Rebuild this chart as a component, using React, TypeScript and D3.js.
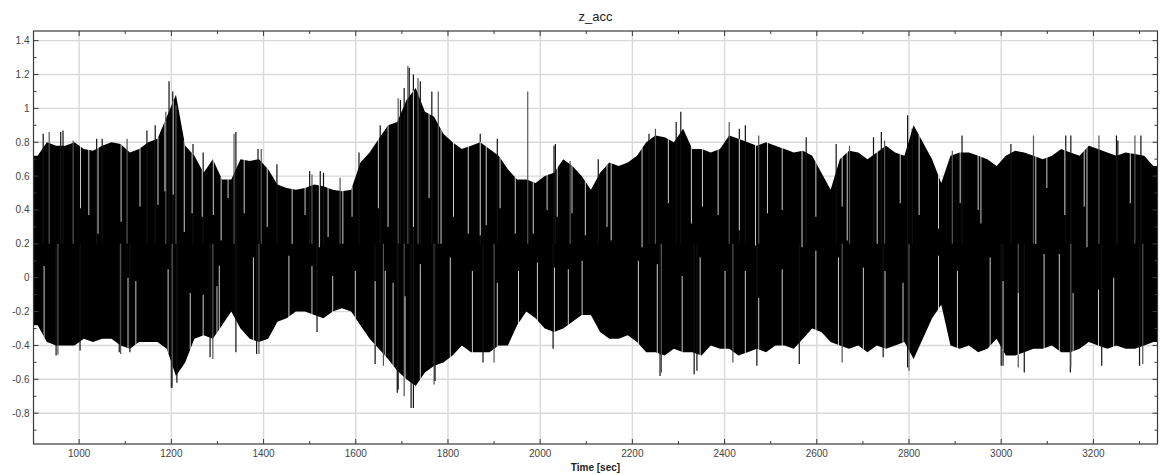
import React from "react";
import * as d3 from "d3";

// ---- data ----
// 20-second bins starting at 900 s: typical column max / min of z_acc
const BIN_START = 900;
const BIN_STEP = 20;
const upperEnv = [
  0.72, 0.8, 0.78, 0.78, 0.8, 0.76, 0.75, 0.78, 0.8, 0.79, 0.74, 0.76, 0.8, 0.82, 0.95, 1.08, 0.78, 0.72, 0.62, 0.7,
  0.58, 0.58, 0.7, 0.69, 0.7, 0.64, 0.55, 0.53, 0.52, 0.53, 0.55, 0.54, 0.52, 0.51, 0.52, 0.68, 0.74, 0.82, 0.9, 0.92,
  1.05, 1.12, 0.98, 0.95, 0.85, 0.8, 0.76, 0.78, 0.8, 0.76, 0.72, 0.64, 0.58, 0.58, 0.56, 0.6, 0.62, 0.7, 0.66, 0.6,
  0.52, 0.62, 0.68, 0.66, 0.68, 0.72, 0.8, 0.84, 0.83, 0.8, 0.88, 0.76, 0.76, 0.74, 0.76, 0.84, 0.82, 0.8, 0.78, 0.8,
  0.78, 0.76, 0.74, 0.75, 0.72, 0.62, 0.52, 0.7, 0.75, 0.74, 0.7, 0.74, 0.78, 0.74, 0.72, 0.9, 0.8, 0.7, 0.56, 0.72,
  0.74, 0.74, 0.72, 0.7, 0.66, 0.72, 0.75, 0.74, 0.72, 0.7, 0.72, 0.76, 0.74, 0.72, 0.78, 0.76, 0.74, 0.72, 0.74, 0.73,
  0.72, 0.66,
];
const lowerEnv = [
  -0.28, -0.38, -0.4, -0.4, -0.4, -0.36, -0.38, -0.36, -0.36, -0.4, -0.42, -0.38, -0.38, -0.38, -0.42, -0.58, -0.5, -0.36, -0.34, -0.36,
  -0.28, -0.2, -0.3, -0.36, -0.38, -0.36, -0.26, -0.24, -0.2, -0.2, -0.22, -0.24, -0.2, -0.18, -0.2, -0.28, -0.36, -0.42, -0.48, -0.55,
  -0.6, -0.64, -0.56, -0.52, -0.5, -0.46, -0.4, -0.44, -0.44, -0.44, -0.4, -0.4, -0.28, -0.2, -0.24, -0.3, -0.32, -0.3, -0.26, -0.22,
  -0.22, -0.32, -0.36, -0.36, -0.34, -0.38, -0.44, -0.44, -0.46, -0.42, -0.44, -0.44, -0.46, -0.4, -0.42, -0.42, -0.46, -0.44, -0.42, -0.44,
  -0.4, -0.4, -0.42, -0.36, -0.3, -0.32, -0.38, -0.4, -0.42, -0.4, -0.44, -0.4, -0.42, -0.4, -0.38, -0.48, -0.36, -0.24, -0.16, -0.4,
  -0.42, -0.4, -0.44, -0.42, -0.36, -0.46, -0.46, -0.44, -0.42, -0.42, -0.4, -0.44, -0.44, -0.42, -0.38, -0.4, -0.42, -0.4, -0.42, -0.42,
  -0.4, -0.38,
];
// isolated peaks [time, value]
const upSpikes: [number, number][] = [
  [922, 0.85], [935, 0.86], [960, 0.86], [965, 0.87], [987, 0.81], [1038, 0.82], [1050, 0.82], [1104, 0.82],
  [1147, 0.87], [1165, 0.9], [1188, 0.98], [1195, 1.16], [1203, 1.1], [1210, 1.02], [1247, 0.79], [1269, 0.74],
  [1336, 0.85], [1340, 0.86], [1388, 0.76], [1395, 0.76], [1429, 0.67], [1500, 0.63], [1505, 0.61], [1523, 0.63],
  [1530, 0.62], [1566, 0.59], [1607, 0.74], [1653, 0.9], [1692, 1.06], [1697, 1.05], [1705, 1.12], [1713, 1.25],
  [1716, 1.24], [1725, 1.2], [1735, 1.18], [1740, 1.16], [1765, 1.1], [1779, 1.1], [1870, 0.85], [1907, 0.82],
  [1973, 1.1], [2030, 0.78], [2033, 0.79], [2065, 0.69], [2126, 0.7], [2236, 0.85], [2250, 0.88], [2295, 0.92],
  [2305, 0.98], [2410, 0.92], [2432, 0.88], [2445, 0.9], [2474, 0.84], [2577, 0.83], [2642, 0.79], [2671, 0.78],
  [2723, 0.83], [2740, 0.86], [2747, 0.81], [2797, 0.96], [2807, 0.88], [2894, 0.75], [2915, 0.84], [3021, 0.79],
  [3070, 0.84], [3140, 0.84], [3151, 0.84], [3212, 0.84], [3250, 0.84], [3253, 0.81], [3290, 0.84], [3303, 0.84],
];
const downSpikes: [number, number][] = [
  [950, -0.46], [954, -0.455], [1002, -0.43], [1087, -0.44], [1090, -0.45], [1110, -0.44], [1200, -0.65], [1202, -0.65],
  [1212, -0.62], [1284, -0.47], [1290, -0.48], [1340, -0.44], [1385, -0.45], [1390, -0.45], [1516, -0.32], [1642, -0.51],
  [1660, -0.52], [1690, -0.68], [1692, -0.66], [1705, -0.7], [1720, -0.77], [1725, -0.77], [1770, -0.63], [1772, -0.61],
  [1876, -0.5], [1900, -0.5], [2028, -0.42], [2260, -0.58], [2263, -0.56], [2334, -0.57], [2340, -0.55], [2418, -0.5],
  [2470, -0.52], [2562, -0.51], [2655, -0.5], [2744, -0.47], [2797, -0.53], [2800, -0.55], [3000, -0.52], [3004, -0.52],
  [3037, -0.53], [3050, -0.56], [3150, -0.56], [3151, -0.53], [3218, -0.52], [3300, -0.52], [3307, -0.51],
];
// narrow white gaps: columns whose max (upperDips) or min (lowerDips) is far inside the band
const upperDips: [number, number][] = [
  [1003, 0.41], [1021, 0.37], [1041, 0.26], [1091, 0.33], [1132, 0.42], [1171, 0.43], [1186, 0.51], [1204, 0.49],
  [1228, 0.27], [1245, 0.38], [1267, 0.36], [1291, 0.37], [1308, 0.22], [1323, 0.47], [1358, 0.38], [1408, 0.3],
  [1462, 0.2], [1490, 0.37], [1521, 0.18], [1540, 0.24], [1572, 0.2], [1592, 0.36], [1649, 0.41], [1670, 0.3],
  [1725, 0.3], [1759, 0.47], [1785, 0.2], [1812, 0.36], [1844, 0.26], [1870, 0.25], [1883, 0.31], [1913, 0.41],
  [1946, 0.26], [1985, 0.26], [2015, 0.4], [2037, 0.36], [2069, 0.38], [2098, 0.25], [2145, 0.3], [2154, 0.22],
  [2221, 0.18], [2278, 0.44], [2328, 0.32], [2352, 0.42], [2386, 0.37], [2432, 0.28], [2467, 0.19], [2493, 0.38],
  [2525, 0.4], [2568, 0.18], [2598, 0.36], [2655, 0.42], [2666, 0.22], [2731, 0.2], [2781, 0.44], [2822, 0.37],
  [2864, 0.29], [2911, 0.44], [2950, 0.4], [2956, 0.32], [3075, 0.2], [3099, 0.53], [3138, 0.37], [3180, 0.42],
  [3186, 0.18], [3280, 0.44],
];
const lowerDips: [number, number][] = [
  [924, 0.07], [1106, 0.0], [1123, -0.02], [1193, 0.05], [1241, -0.09], [1269, -0.1], [1299, -0.05], [1304, 0.07],
  [1378, 0.12], [1455, 0.13], [1505, 0.07], [1550, 0.01], [1599, 0.04], [1642, -0.02], [1664, 0.04], [1681, -0.03],
  [1707, -0.11], [1740, 0.08], [1805, 0.12], [1853, 0.04], [1907, -0.03], [1953, 0.04], [1994, 0.09], [2031, 0.06],
  [2061, 0.05], [2091, 0.1], [2213, 0.1], [2254, 0.08], [2308, 0.01], [2347, 0.12], [2401, 0.04], [2445, 0.04],
  [2474, -0.12], [2525, 0.05], [2598, 0.16], [2647, 0.12], [2701, 0.06], [2748, 0.04], [2787, -0.03], [2864, 0.13],
  [2905, 0.04], [2976, 0.12], [3004, -0.02], [3037, -0.09], [3093, 0.14], [3126, 0.14], [3156, -0.09], [3211, -0.07],
  [3244, 0.0],
];
const xTicks = [1000, 1200, 1400, 1600, 1800, 2000, 2200, 2400, 2600, 2800, 3000, 3200];
const xMinor = [1100, 1300, 1500, 1700, 1900, 2100, 2300, 2500, 2700, 2900, 3100, 3300];
const yTicks = [-0.8, -0.6, -0.4, -0.2, 0, 0.2, 0.4, 0.6, 0.8, 1, 1.2, 1.4];
const yMinor = [-0.9, -0.7, -0.5, -0.3, -0.1, 0.1, 0.3, 0.5, 0.7, 0.9, 1.1, 1.3];
const TITLE = "z_acc";
const XLABEL = "Time [sec]";

export default function App() {
  const W = 1163;
  const H = 475;
  const L = 33.5, R = 1157.5, T = 31, B = 444;
  const x = d3.scaleLinear().domain([901, 3339]).range([L, R]);
  const y = d3.scaleLinear().domain([-0.982, 1.457]).range([B, T]);

  const pts = upperEnv.map((u, i) => ({ t: BIN_START + BIN_STEP * (i + 0.5), u, l: lowerEnv[i] }));
  const full = [
    { t: BIN_START, u: upperEnv[0], l: lowerEnv[0] },
    ...pts,
    { t: BIN_START + BIN_STEP * upperEnv.length, u: upperEnv[upperEnv.length - 1], l: lowerEnv[lowerEnv.length - 1] },
  ];
  const area = d3
    .area<{ t: number; u: number; l: number }>()
    .x((d) => x(d.t))
    .y0((d) => y(d.l))
    .y1((d) => y(d.u))
    .curve(d3.curveLinear);

  const envAt = (t: number, key: "u" | "l") => {
    const i = d3.bisector((d: any) => d.t).right(full, t);
    const a = full[Math.max(0, i - 1)];
    const b = full[Math.min(full.length - 1, i)];
    if (a === b || b.t === a.t) return a[key];
    const f = (t - a.t) / (b.t - a.t);
    return a[key] + (b[key] - a[key]) * f;
  };

  const font = "Arial, 'Liberation Sans', sans-serif";
  const grid = "#d9d9d9";
  const axisCol = "#3a3a3a";

  return (
    <div style={{ position: "absolute", left: 0, top: 0 }}>
      <svg width={W} height={H} viewBox={`0 0 ${W} ${H}`} style={{ display: "block", background: "#fff" }}>
        <defs>
          <clipPath id="plot">
            <rect x={L} y={T} width={R - L} height={B - T} />
          </clipPath>
        </defs>
        {/* grid */}
        <g stroke={grid} strokeWidth={1.4}>
          {xTicks.map((t) => (
            <line key={"gx" + t} x1={x(t)} x2={x(t)} y1={T} y2={B} />
          ))}
          {yTicks.map((v) => (
            <line key={"gy" + v} x1={L} x2={R} y1={y(v)} y2={y(v)} />
          ))}
        </g>
        {/* signal */}
        <g clipPath="url(#plot)">
          <path d={area(full) || ""} fill="#000" />
          {upSpikes.map(([t, v], i) => (
            <line key={"us" + i} x1={x(t)} x2={x(t)} y1={y(0.2)} y2={y(v)} stroke={i % 3 === 1 ? "#555" : "#111"} strokeWidth={1.2} />
          ))}
          {downSpikes.map(([t, v], i) => (
            <line key={"ds" + i} x1={x(t)} x2={x(t)} y1={y(0.2)} y2={y(v)} stroke={i % 3 === 1 ? "#555" : "#111"} strokeWidth={1.2} />
          ))}
          {upperDips.map(([t, v], i) => (
            <line key={"ud" + i} x1={x(t)} x2={x(t)} y1={y(envAt(t, "u")) - 0.5} y2={y(v)} stroke="#fff" strokeWidth={1} strokeOpacity={0.8} />
          ))}
          {lowerDips.map(([t, v], i) => (
            <line key={"ld" + i} x1={x(t)} x2={x(t)} y1={y(envAt(t, "l")) + 0.5} y2={y(v)} stroke="#fff" strokeWidth={1} strokeOpacity={0.8} />
          ))}
        </g>
        {/* frame */}
        <rect x={L} y={T} width={R - L} height={B - T} fill="none" stroke={axisCol} strokeWidth={1.2} />
        {/* ticks */}
        <g stroke={axisCol} strokeWidth={1}>
          {xTicks.map((t) => (
            <g key={"xt" + t}>
              <line x1={x(t)} x2={x(t)} y1={B} y2={B - 5} />
              <line x1={x(t)} x2={x(t)} y1={T} y2={T + 5} />
            </g>
          ))}
          {xMinor.map((t) => (
            <g key={"xm" + t}>
              <line x1={x(t)} x2={x(t)} y1={B} y2={B - 3} />
              <line x1={x(t)} x2={x(t)} y1={T} y2={T + 3} />
            </g>
          ))}
          {yTicks.map((v) => (
            <g key={"yt" + v}>
              <line x1={L} x2={L + 5} y1={y(v)} y2={y(v)} />
              <line x1={R} x2={R - 5} y1={y(v)} y2={y(v)} />
            </g>
          ))}
          {yMinor.map((v) => (
            <g key={"ym" + v}>
              <line x1={L} x2={L + 3} y1={y(v)} y2={y(v)} />
              <line x1={R} x2={R - 3} y1={y(v)} y2={y(v)} />
            </g>
          ))}
        </g>
        {/* tick labels */}
        <g fontFamily={font} fontSize={10} fill="#444">
          {xTicks.map((t) => (
            <text key={"xl" + t} x={x(t)} y={B + 13} textAnchor="middle">
              {t}
            </text>
          ))}
          {yTicks.map((v) => (
            <text key={"yl" + v} x={L - 4} y={y(v) + 3.5} textAnchor="end">
              {d3.format("~g")(v).replace("−", "-")}
            </text>
          ))}
        </g>
        <text x={(L + R) / 2} y={21} textAnchor="middle" fontFamily={font} fontSize={13} fill="#222">
          {TITLE}
        </text>
        <text x={(L + R) / 2} y={471} textAnchor="middle" fontFamily={font} fontSize={10} fontWeight="bold" fill="#222">
          {XLABEL}
        </text>
      </svg>
    </div>
  );
}
